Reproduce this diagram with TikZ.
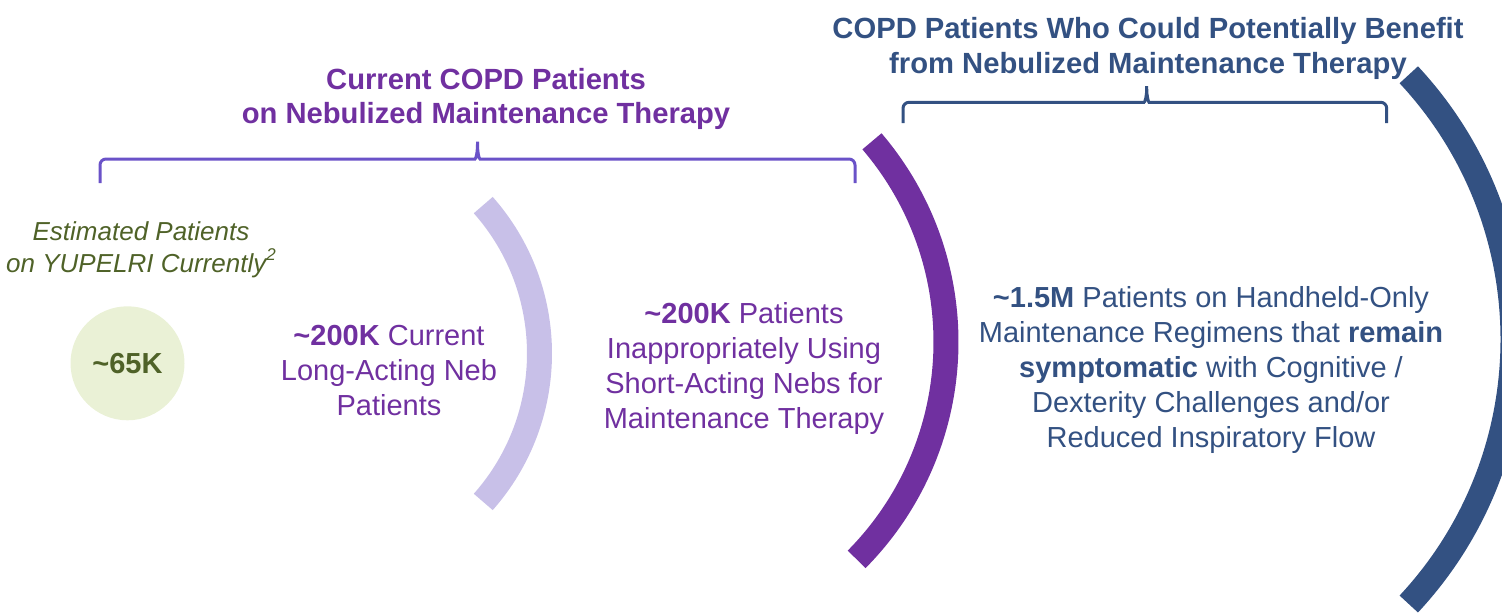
\documentclass[tikz,border=0pt]{standalone}
\usepackage{fontspec}
\setmainfont{Liberation Sans}
\usetikzlibrary{positioning}
\definecolor{copdpurple}{RGB}{112,48,160}
\definecolor{bracepurple}{RGB}{106,82,200}
\definecolor{lavender}{RGB}{200,192,232}
\definecolor{copdblue}{RGB}{51,81,130}
\definecolor{olivetext}{RGB}{79,98,40}
\definecolor{palegreen}{RGB}{234,241,214}

\begin{document}
\begin{tikzpicture}[x=0.5pt,y=-0.5pt,inner sep=0pt,
    band/.style={line width=12.5pt},
    brace/.style={line width=1.5pt,rounded corners=3pt},
    title/.style={align=center,font=\fontsize{14.6}{17.2}\selectfont\bfseries},
    body/.style={align=center,font=\fontsize{14.5}{17.5}\selectfont}]

  \useasboundingbox (0,0) rectangle (1502,615);
  \clip (0,0) rectangle (1502,615);

  % arcs
  \draw[band,lavender] (315.5,353.5) ++(-41.5:224) arc[start angle=-41.5,end angle=41.5,radius=224];
  \draw[band,copdpurple] (637,342) ++(-40.5:309) arc[start angle=-40.5,end angle=44.7,radius=309];
  \draw[band,copdblue] (1125,339.4) ++(-43:388) arc[start angle=-43,end angle=43,radius=388];

  % braces
  \coordinate (lb1) at (100,183);
  \coordinate (lbt) at (477.5,138);
  \coordinate (lb2) at (855,183);
  \draw[brace,bracepurple] (lb1) -- (100,159) -- (469,159)
      .. controls (476,159) and (477.5,152) .. (lbt)
      .. controls (477.5,152) and (479,159) .. (486,159) -- (855,159) -- (lb2);

  \coordinate (rb1) at (903,123);
  \coordinate (rbt) at (1146.7,82.7);
  \coordinate (rb2) at (1386.7,123);
  \draw[brace,copdblue] (rb1) -- (903,102.3) -- (1138,102.3)
      .. controls (1145,102.3) and (1146.7,96) .. (rbt)
      .. controls (1146.7,96) and (1148.4,102.3) .. (1155,102.3) -- (1386.7,102.3) -- (rb2);

  % titles
  \node[title,text=copdpurple] (curTitle) at (486,99)
      {Current COPD Patients\\on Nebulized Maintenance Therapy};
  \node[title,text=copdblue] (benTitle) at (1148,48.5)
      {COPD Patients Who Could Potentially Benefit\\from Nebulized Maintenance Therapy};

  % groups
  \node[body,circle,fill=palegreen,minimum size=57pt,text=olivetext] (yup) at (127.5,363.3)
      {\textbf{\textasciitilde65K}};
  \node[align=center,text=olivetext,font=\fontsize{13}{15.8}\selectfont\itshape,
        above=14pt of yup,xshift=6.75pt] (est)
      {Estimated Patients\\on YUPELRI Currently\raisebox{0.85ex}{\fontsize{8.5}{8.5}\selectfont 2}};

  \node[body,text=copdpurple] (lan) at (389,371)
      {\textbf{\textasciitilde200K} Current\\Long-Acting Neb\\Patients};
  \node[body,text=copdpurple] (san) at (744,368.5)
      {\textbf{\textasciitilde200K} Patients\\Inappropriately Using\\Short-Acting Nebs for\\Maintenance Therapy};
  \node[body,text=copdblue] (hh) at (1211,369.5)
      {\textbf{\textasciitilde1.5M} Patients on Handheld-Only\\Maintenance Regimens that \textbf{remain}\\\textbf{symptomatic} with Cognitive /\\Dexterity Challenges and/or\\Reduced Inspiratory Flow};

\end{tikzpicture}
\end{document}
